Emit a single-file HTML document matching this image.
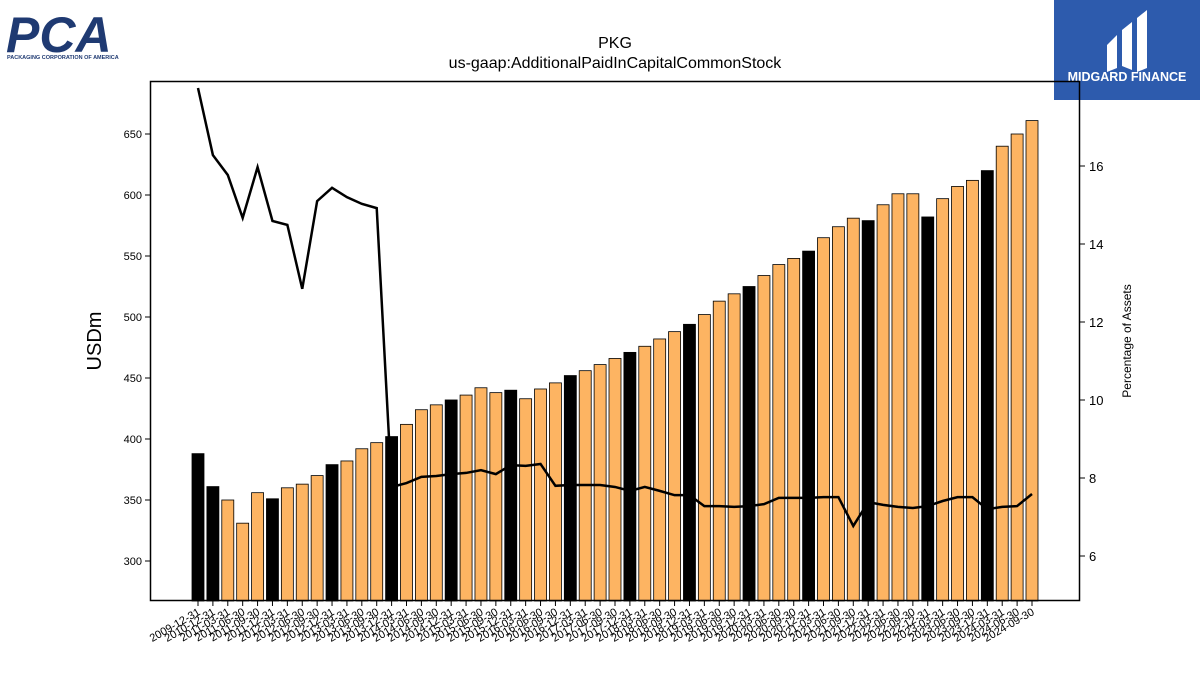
<!DOCTYPE html>
<html><head><meta charset="utf-8"><style>
body{margin:0;background:#fff;width:1200px;height:675px;overflow:hidden;font-family:"Liberation Sans","DejaVu Sans",sans-serif}
</style></head><body>
<svg width="1200" height="675" viewBox="0 0 1200 675" xmlns="http://www.w3.org/2000/svg">
<g>
<text x="6" y="52" font-family="Liberation Sans, sans-serif" font-weight="bold" font-size="50" fill="#1f3a72" font-style="italic">PCA</text>
<text x="7" y="59" font-size="5.5" fill="#1f3a72" font-weight="bold">PACKAGING CORPORATION OF AMERICA</text>
</g>
<g>
<rect x="1054" y="0" width="146" height="100" fill="#2d5bad"/>
<path d="M1107 45 L1117 35 L1117 68 L1107 72 Z M1122 30 L1132 22 L1132 70 L1122 66 Z M1137 18 L1147 10 L1147 68 L1137 72 Z" fill="#fff"/>
<text x="1127" y="81" text-anchor="middle" font-size="12.5" font-weight="bold" fill="#fff">MIDGARD FINANCE</text>
</g>
<text x="615" y="48" text-anchor="middle" font-size="16">PKG</text>
<text x="615" y="68" text-anchor="middle" font-size="16">us-gaap:AdditionalPaidInCapitalCommonStock</text>
<g id="plot"></g>
<rect x="150.5" y="81.5" width="929" height="519" fill="none" stroke="#000" stroke-width="1.5"/>
<text transform="translate(101,341) rotate(-90)" text-anchor="middle" font-size="20">USDm</text>
<text transform="translate(1131,341) rotate(-90)" text-anchor="middle" font-size="12">Percentage of Assets</text>
</svg>
<script>
const dates=["2009-12-31","2010-12-31","2011-03-31","2011-06-30","2011-09-30","2011-12-31","2012-03-31","2012-06-30","2012-09-30","2012-12-31","2013-03-31","2013-06-30","2013-09-30","2013-12-31","2014-03-31","2014-06-30","2014-09-30","2014-12-31","2015-03-31","2015-06-30","2015-09-30","2015-12-31","2016-03-31","2016-06-30","2016-09-30","2016-12-31","2017-03-31","2017-06-30","2017-09-30","2017-12-31","2018-03-31","2018-06-30","2018-09-30","2018-12-31","2019-03-31","2019-06-30","2019-09-30","2019-12-31","2020-03-31","2020-06-30","2020-09-30","2020-12-31","2021-03-31","2021-06-30","2021-09-30","2021-12-31","2022-03-31","2022-06-30","2022-09-30","2022-12-31","2023-03-31","2023-06-30","2023-09-30","2023-12-31","2024-03-31","2024-06-30","2024-09-30"];
const values=[388,361,350,331,356,351,360,363,370,379,382,392,397,402,412,424,428,432,436,442,438,440,433,441,446,452,456,461,466,471,476,482,488,494,502,513,519,525,534,543,548,554,565,574,581,579,592,601,601,582,597,607,612,620,640,650,661];
const pct=[18.0,16.28,15.77,14.67,15.97,14.59,14.49,12.85,15.1,15.44,15.2,15.03,14.92,7.77,7.87,8.03,8.05,8.1,8.13,8.2,8.1,8.33,8.31,8.36,7.8,7.82,7.82,7.82,7.77,7.67,7.77,7.67,7.56,7.56,7.28,7.28,7.26,7.28,7.33,7.49,7.49,7.49,7.51,7.51,6.77,7.38,7.31,7.26,7.23,7.28,7.41,7.51,7.51,7.2,7.26,7.28,7.59];
const leftTicks=[300,350,400,450,500,550,600,650];
const rightTicks=[6,8,10,12,14,16];
const NS="http://www.w3.org/2000/svg";
const plot=document.getElementById('plot');
const X0=198,X1=1032;
const xs=i=>X0+(X1-X0)*i/(dates.length-1);
const yL=v=>561-(v-300)*1.22;
const yR=v=>166-(v-16)*39;
function mk(t,a){const e=document.createElementNS(NS,t);for(const k in a)e.setAttribute(k,a[k]);plot.appendChild(e);return e;}
values.forEach((v,i)=>{
  const black=dates[i].slice(5)==="12-31";
  const r=mk('rect',{x:xs(i)-6,y:yL(v),width:12,height:601-yL(v),fill:black?'#000':'#fdb462',stroke:'#000','stroke-width':0.8});
  
  
  const t=mk('line',{x1:xs(i),x2:xs(i),y1:601,y2:606,stroke:'#000'});
  
  
  const l=mk('text',{transform:`translate(${xs(i)+3},${614}) rotate(-30)`,'text-anchor':'end','font-size':11});
  l.textContent=dates[i];
  
  
});
const line=mk('polyline',{points:pct.map((p,i)=>xs(i)+','+yR(p)).join(' '),fill:'none',stroke:'#000','stroke-width':2.5});


leftTicks.forEach(v=>{
  const t=mk('line',{x1:145,x2:150,y1:yL(v),y2:yL(v),stroke:'#000'});
  
  
  const l=mk('text',{x:142,y:yL(v)+4,'text-anchor':'end','font-size':11});
  l.textContent=v;
  
  
});
rightTicks.forEach(v=>{
  const t=mk('line',{x1:1080,x2:1085,y1:yR(v),y2:yR(v),stroke:'#000'});
  
  
  const l=mk('text',{x:1089,y:yR(v)+5,'font-size':13});
  l.textContent=v;
  
  
});
</script>
</body></html>
